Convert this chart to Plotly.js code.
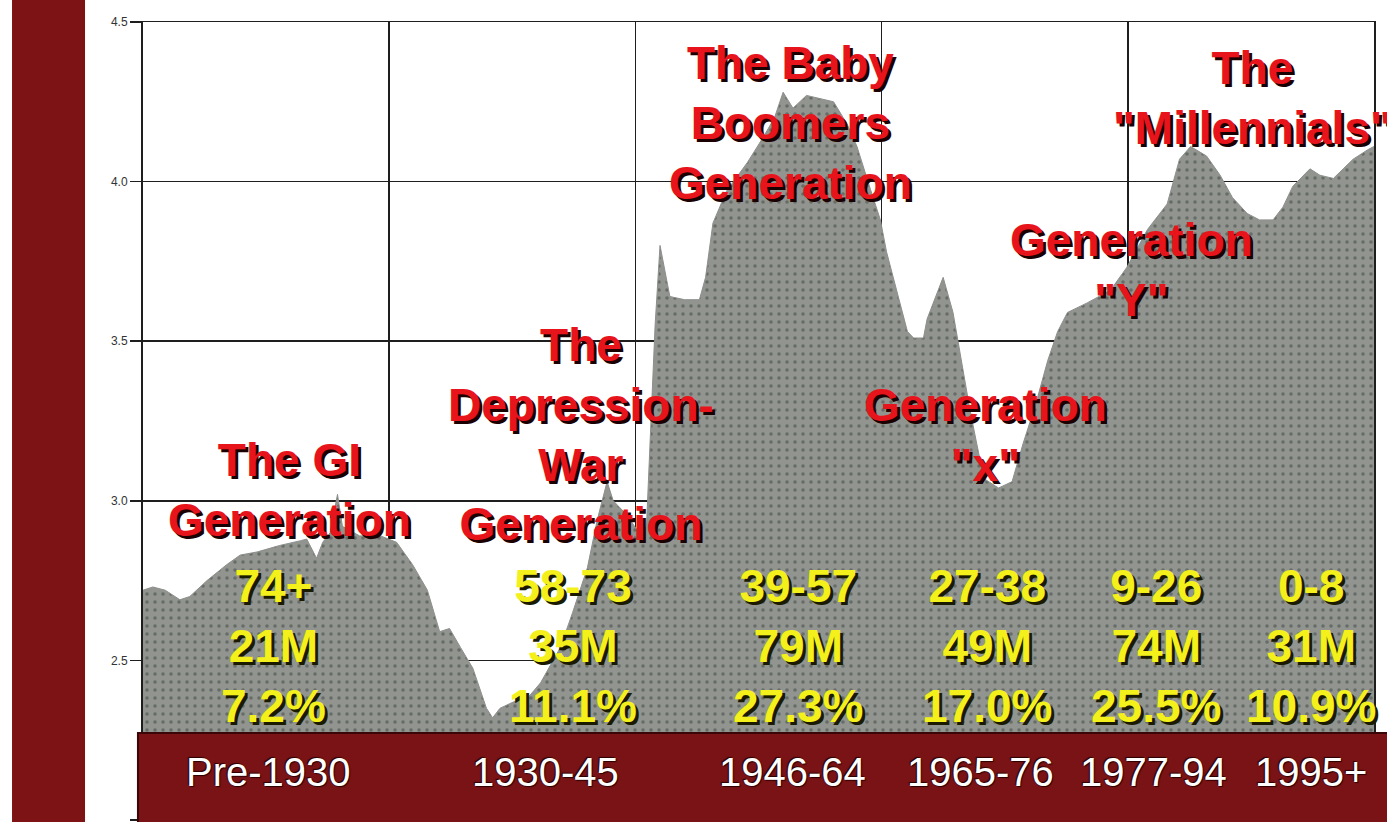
<!DOCTYPE html>
<html>
<head>
<meta charset="utf-8">
<script src="https://cdn.plot.ly/plotly-3.0.1.min.js"></script>
<style>
  html, body { margin: 0; padding: 0; background: #ffffff; }
  #chart { width: 1387px; height: 822px; }
</style>
</head>
<body>
<div id="chart"></div>
<script>
// ---- data ----
const years = [1905.0,1905.8,1906.8,1908.0,1908.8,1910.2,1911.8,1912.9,1914.3,1916.1,1917.8,1918.3,1919.1,1919.6,1920.2,1920.8,1921.2,1922.6,1924.3,1925.6,1926.9,1928.1,1929.1,1929.9,1930.8,1931.8,1932.9,1933.4,1934.0,1935.1,1936.2,1937.3,1938.9,1939.9,1941.1,1941.9,1942.7,1943.2,1944.2,1945.3,1945.9,1946.3,1946.6,1947.0,1947.8,1949.0,1950.2,1950.7,1951.3,1952.4,1954.1,1955.4,1956.3,1957.0,1957.8,1958.9,1960.0,1961.1,1962.2,1963.0,1964.1,1964.9,1965.4,1966.3,1967.1,1967.6,1968.4,1968.7,1970.0,1970.8,1971.2,1972.2,1973.3,1974.5,1975.6,1976.5,1977.5,1978.5,1979.3,1980.1,1981.7,1983.6,1984.9,1986.6,1988.2,1989.2,1990.1,1991.4,1992.5,1993.5,1994.7,1995.7,1996.8,1997.6,1998.4,1999.8,2000.6,2001.7,2002.5,2003.3,2004.5,2005.0];
const births = [2.72,2.73,2.72,2.69,2.70,2.75,2.80,2.83,2.84,2.86,2.875,2.88,2.82,2.87,2.90,3.02,2.92,2.89,2.89,2.87,2.80,2.72,2.59,2.60,2.54,2.475,2.35,2.32,2.35,2.37,2.38,2.43,2.54,2.65,2.79,2.94,3.06,3.00,2.96,2.90,2.92,3.30,3.55,3.80,3.64,3.63,3.63,3.70,3.87,3.97,4.06,4.14,4.20,4.28,4.23,4.27,4.26,4.25,4.18,4.11,3.975,3.88,3.78,3.65,3.53,3.51,3.51,3.57,3.70,3.59,3.50,3.28,3.07,3.04,3.06,3.18,3.30,3.44,3.53,3.59,3.62,3.66,3.73,3.85,3.93,4.07,4.11,4.08,4.02,3.95,3.90,3.88,3.88,3.92,3.985,4.04,4.02,4.01,4.04,4.07,4.10,4.11];

const generationNames = ['The GI<br>Generation', 'The<br>Depression-<br>War<br>Generation', 'The Baby<br>Boomers<br>Generation', 'Generation<br>"x"', 'Generation<br>"Y"', 'The<br>"Millennials"'];
const ageRanges = ['74+', '58-73', '39-57', '27-38', '9-26', '0-8'];
const populations = ['21M', '35M', '79M', '49M', '74M', '31M'];
const shares = ['7.2%', '11.1%', '27.3%', '17.0%', '25.5%', '10.9%'];
const periodLabels = ['Pre-1930', '1930-45', '1946-64', '1965-76', '1977-94', '1995+'];
const yTicks = [2.0, 2.5, 3.0, 3.5, 4.0, 4.5];

// ---- label placement (data coordinates of the plot) ----
const namePos = [[1916.9, 3.034], [1940.6, 3.209], [1957.6, 4.184], [1973.4, 3.206], [1985.3, 3.722], [1995.1, 4.262]];
const statPos = [[1915.6, 2.545], [1939.9, 2.545], [1958.2, 2.545], [1973.6, 2.545], [1987.3, 2.545], [1999.9, 2.545]];
const periodPos = [1915.2, 1937.7, 1957.8, 1973.0, 1987.1, 1999.9];

const redFont = {family: '"Liberation Sans", Arial, sans-serif', size: 46, color: '#e8141c', weight: 'bold', shadow: '3px 3px 0px #1a0000'};
const yellowFont = {family: '"Liberation Sans", Arial, sans-serif', size: 46, color: '#f4f01c', weight: 'bold', shadow: '3px 3px 0px #1a1a00'};
const periodFont = {family: '"Liberation Sans", Arial, sans-serif', size: 40, color: '#ffffff', shadow: '1px 1px 1px #2a0000, -1px -1px 1px #2a0000'};

const annotations = [];
generationNames.forEach((t, i) => annotations.push({
  x: namePos[i][0], y: namePos[i][1], xref: 'x', yref: 'y', text: t, showarrow: false,
  xanchor: 'center', yanchor: 'middle', align: 'center', font: redFont
}));
ageRanges.forEach((a, i) => annotations.push({
  x: statPos[i][0], y: statPos[i][1], xref: 'x', yref: 'y',
  text: a + '<br>' + populations[i] + '<br>' + shares[i], showarrow: false,
  xanchor: 'center', yanchor: 'middle', align: 'center', font: yellowFont
}));
periodLabels.forEach((p, i) => annotations.push({
  x: periodPos[i], y: 2.15, xref: 'x', yref: 'y', text: p, showarrow: false,
  xanchor: 'center', yanchor: 'middle', font: periodFont
}));

const trace = {
  x: years, y: births, type: 'scatter', mode: 'lines',
  fill: 'tozeroy', fillcolor: '#8f928e',
  fillpattern: {shape: '.', bgcolor: '#91948f', fgcolor: '#686c68', size: 8, solidity: 0.16},
  line: {color: '#8c8f8b', width: 1}, hoverinfo: 'skip'
};

const layout = {
  width: 1387, height: 822,
  margin: {l: 143, r: 13, t: 22, b: 2},
  paper_bgcolor: '#ffffff', plot_bgcolor: '#ffffff',
  showlegend: false,
  xaxis: {
    range: [1905, 2005], tick0: 1905, dtick: 20, showticklabels: false, ticks: '',
    showgrid: true, gridcolor: '#1e1e1e', gridwidth: 1.5, zeroline: false,
    showline: true, linecolor: '#1e1e1e', linewidth: 1.5, mirror: true
  },
  yaxis: {
    range: [2.0, 4.5], tickvals: yTicks, tickformat: '.1f',
    showgrid: true, gridcolor: '#1e1e1e', gridwidth: 1.5, zeroline: false,
    showline: true, linecolor: '#1e1e1e', linewidth: 2, mirror: true,
    ticks: 'outside', ticklen: 11, tickwidth: 1.5, tickcolor: '#1e1e1e',
    tickfont: {family: '"Liberation Sans", Arial, sans-serif', size: 12, color: '#333333'}
  },
  shapes: [
    {type: 'rect', xref: 'paper', yref: 'paper', x0: -0.1064, x1: -0.0471, y0: -0.01, y1: 1.03,
     fillcolor: '#7e1315', line: {width: 0}, layer: 'below'},
    {type: 'rect', xref: 'paper', yref: 'paper', x0: -0.0041, x1: 1.012, y0: -0.01, y1: 0.109,
     fillcolor: '#7a1315', line: {color: '#3a0607', width: 2}, layer: 'above'}
  ],
  annotations: annotations
};

Plotly.newPlot('chart', [trace], layout, {displayModeBar: false, staticPlot: true});
</script>
</body>
</html>
